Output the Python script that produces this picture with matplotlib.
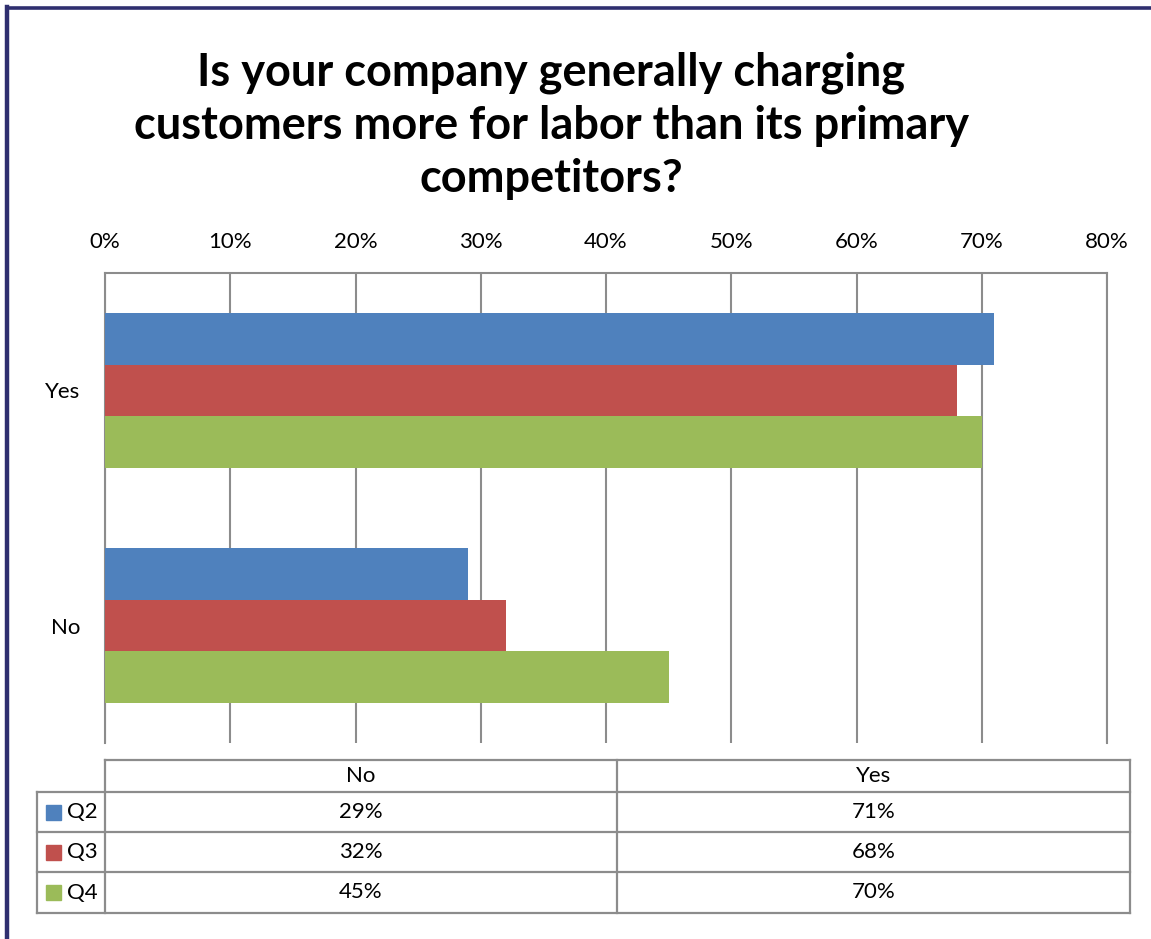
import matplotlib.pyplot as plt
from matplotlib.patches import Rectangle
from matplotlib.lines import Line2D

plt.rcParams['font.family'] = ['Lato', 'DejaVu Sans']

# survey answers per quarter
categories = ["Yes", "No"]
series_names = ["Q2", "Q3", "Q4"]
yes_values = [71, 68, 70]
no_values = [29, 32, 45]
colors = ["#4F81BD", "#C0504D", "#9BBB59"]
x_ticks = [0, 10, 20, 30, 40, 50, 60, 70, 80]
title = "Is your company generally charging\ncustomers more for labor than its primary\ncompetitors?"

W, H = 1151, 939
fig = plt.figure(figsize=(W / 100, H / 100), dpi=100)


def px_box(x0, y0, x1, y1):
    # pixel box (top-left origin) -> figure fraction rect
    return [x0 / W, 1 - y1 / H, (x1 - x0) / W, (y1 - y0) / H]


grid_color = "#8C8C8C"
fs = 16

ax = fig.add_axes(px_box(105, 273, 1107, 743))
bar_h = 0.221
for i, name in enumerate(series_names):
    vals = [yes_values[i], no_values[i]]
    ys = [c + (i - 1) * bar_h for c in range(len(categories))]
    ax.barh(ys, vals, height=bar_h, color=colors[i], label=name, zorder=3)

ax.set_xlim(0, 80)
ax.set_ylim(1.5, -0.5)
ax.set_xticks(x_ticks)
ax.set_xticklabels([f"{t}%" for t in x_ticks], fontsize=fs)
ax.xaxis.tick_top()
ax.tick_params(axis="x", length=0, pad=15)
ax.set_yticks(range(len(categories)))
ax.set_yticklabels(categories, fontsize=fs)
ax.tick_params(axis="y", length=0, pad=18)
ax.grid(axis="x", color=grid_color, linewidth=1.5, zorder=0)
for side in ["top", "left", "right"]:
    ax.spines[side].set_color(grid_color)
    ax.spines[side].set_linewidth(1.5)
ax.spines["bottom"].set_visible(False)

fig.text(551 / W, 1 - 126 / H, title, ha="center", va="center",
         fontsize=32.5, fontweight="bold", linespacing=1.32)

# data table under the chart
tab = fig.add_axes([0, 0, 1, 1], zorder=-1)
tab.set_xlim(0, W)
tab.set_ylim(H, 0)
tab.axis("off")

col_x = [37, 105, 617, 1130]
row_y = [760, 792, 832, 872, 913]
lw = 1.6
# header row (no corner cell)
tab.plot([col_x[1], col_x[3]], [row_y[0], row_y[0]], color=grid_color, lw=lw)
for y in row_y[1:]:
    tab.plot([col_x[0], col_x[3]], [y, y], color=grid_color, lw=lw)
tab.plot([col_x[0], col_x[0]], [row_y[1], row_y[-1]], color=grid_color, lw=lw)
for x in col_x[1:]:
    tab.plot([x, x], [row_y[0], row_y[-1]], color=grid_color, lw=lw)

col_values = [no_values, yes_values]
for j, cat in enumerate(["No", "Yes"]):
    cx = (col_x[j + 1] + col_x[j + 2]) / 2
    tab.text(cx, (row_y[0] + row_y[1]) / 2, cat, ha="center", va="center", fontsize=fs)
    for i in range(len(series_names)):
        cy = (row_y[i + 1] + row_y[i + 2]) / 2
        tab.text(cx, cy, f"{col_values[j][i]}%", ha="center", va="center", fontsize=fs)

for i, name in enumerate(series_names):
    cy = (row_y[i + 1] + row_y[i + 2]) / 2
    tab.add_patch(Rectangle((46, cy - 7.5), 15, 15, color=colors[i]))
    tab.text(67, cy, name, ha="left", va="center", fontsize=fs)

# outer frame at left and top
frame = "#2F2F6F"
fig.add_artist(Line2D([7 / W, 7 / W], [0, 1 - 7 / H], color=frame, lw=3.2))
fig.add_artist(Line2D([7 / W, 1], [1 - 7.5 / H, 1 - 7.5 / H], color=frame, lw=2.6))

fig.savefig("out.png", dpi=100)
